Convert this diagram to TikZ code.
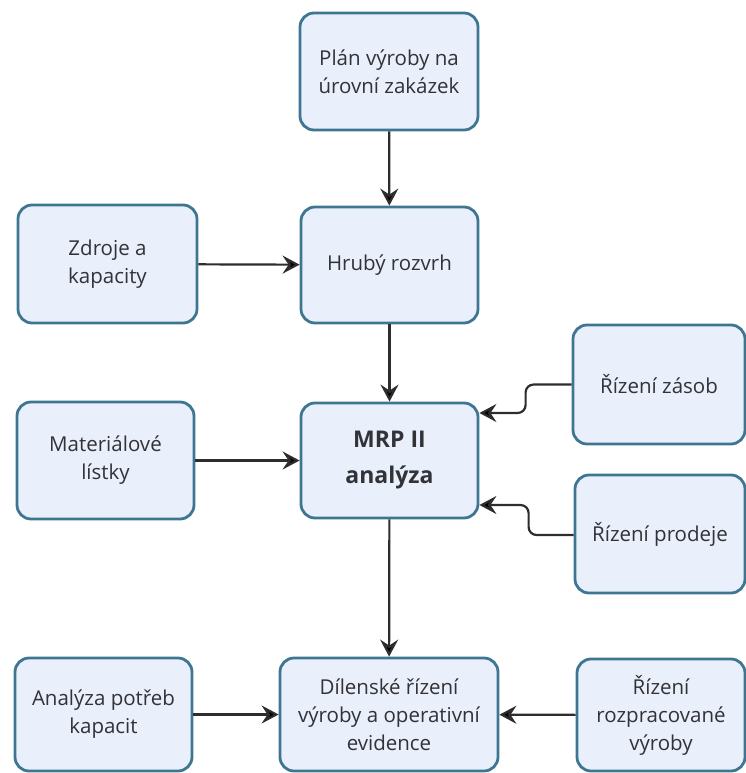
\documentclass[tikz,border=0pt]{standalone}
\usepackage{fontspec}
\setmainfont{Open Sans}
\usetikzlibrary{arrows.meta}
\definecolor{boxfill}{RGB}{233,239,251}
\definecolor{boxline}{RGB}{62,118,146}
\definecolor{txt}{RGB}{50,50,55}
\definecolor{wire}{RGB}{45,45,45}
\begin{document}
\begin{tikzpicture}[x=1pt,y=-1pt,
  blk/.style={draw=boxline, fill=boxfill, line width=2.8pt, rounded corners=14pt,
    align=center, text=txt, inner sep=2pt,
    font=\fontsize{20.5}{28}\selectfont},
  conn/.style={draw=wire, line width=2.2pt,
    -{Stealth[length=17pt,width=18pt,inset=6pt,fill=black]}},
]
\useasboundingbox (0,0) rectangle (746,773);

% boxes
\node[blk, minimum width=178pt, minimum height=117pt] (plan) at (389,71.5) {Plán výroby na\\úrovní zakázek};
\node[blk, minimum width=179pt, minimum height=118pt] (zdroje) at (107.5,264) {Zdroje a\\kapacity};
\node[blk, minimum width=177pt, minimum height=116pt] (hruby) at (389.5,265) {Hrubý rozvrh};
\node[blk, minimum width=172pt, minimum height=119pt] (zasob) at (659,384.5) {Řízení zásob};
\node[blk, minimum width=177pt, minimum height=117pt] (mat) at (105.5,460.5) {Materiálové\\lístky};
\node[blk, minimum width=177pt, minimum height=115pt,
      font=\fontsize{23}{36}\selectfont\bfseries] (mrp) at (389.5,460.5) {MRP II\\analýza};
\node[blk, minimum width=170pt, minimum height=118pt] (prodej) at (660,534) {Řízení prodeje};
\node[blk, minimum width=177pt, minimum height=113pt] (kapac) at (103.5,714.5) {Analýza potřeb\\kapacit};
\node[blk, minimum width=218pt, minimum height=113pt] (dilna) at (389,714.5) {Dílenské řízení\\výroby a operativní\\evidence};
\node[blk, minimum width=168pt, minimum height=112pt] (rozpr) at (661,715) {Řízení\\rozpracované\\výroby};

% entry points on the right side of the MRP box
\coordinate (mrpA) at (mrp.east |- 0,413);
\coordinate (mrpB) at (mrp.east |- 0,505);

% connectors
\draw[conn] (plan) -- (hruby);
\draw[conn] (zdroje) -- (hruby);
\draw[conn] (hruby) -- (mrp);
\draw[conn] (mat) -- (mrp);
\draw[conn] (mrp) -- (dilna);
\draw[conn] (kapac) -- (dilna);
\draw[conn] (rozpr) -- (dilna);
\draw[conn, rounded corners=8pt] (zasob.west) -- ++(-46,0) |- (mrpA);
\draw[conn, rounded corners=8pt] (prodej.west |- 0,535) -- ++(-45,0) |- (mrpB);
\end{tikzpicture}
\end{document}
